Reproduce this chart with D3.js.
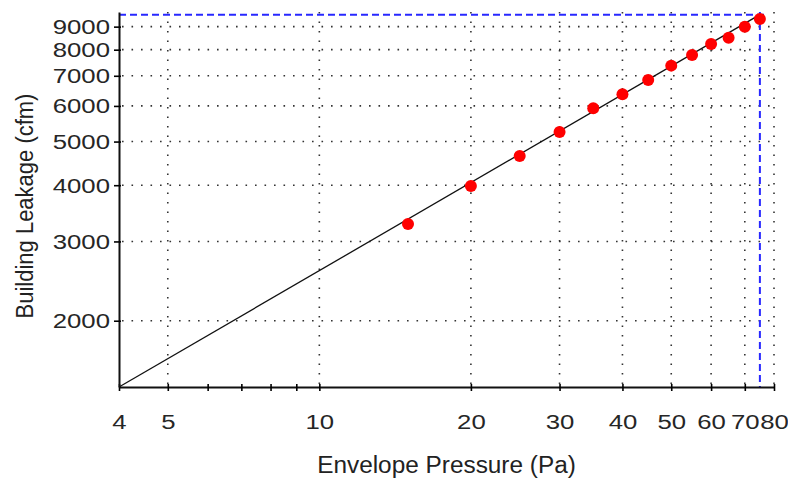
<!DOCTYPE html>
<html>
<head>
<meta charset="utf-8">
<script src="https://cdn.jsdelivr.net/npm/d3@7"></script>
<style>
  body { margin: 0; background: #fff; }
  svg { display: block; font-family: "Liberation Sans", Arial, sans-serif; }
</style>
</head>
<body>
<svg id="chart" width="788" height="480"></svg>
<script>
// Blower door test: building leakage vs envelope pressure, log-log axes
const pressures = [15, 20, 25, 30, 35, 40, 45, 50, 55, 60, 65, 70, 75]
const flows = [3280, 3984, 4644, 5252, 5929, 6368, 6851, 7373, 7788, 8238, 8508, 9000, 9362]

// fitted power-law line, drawn between its two end points
const fitPressures = [4, 75]
const fitFlows = [1425, 9570]

// blue crosshair at the test pressure
const crossPressure = 75
const crossFlow = 9570

const xTicks = [4, 5, 10, 20, 30, 40, 50, 60, 70, 80]
const xMinorTicks = [6, 7, 8, 9]
const xGridValues = [5, 10, 20, 30, 40, 50, 60, 70, 80]
const yTicks = [2000, 3000, 4000, 5000, 6000, 7000, 8000, 9000]
const xDomain = [4, 80]
const yDomain = [1425, 9700]

const margin = {top: 12, right: 14, bottom: 93, left: 119}
const width = 788
const height = 480

const svg = d3.select('#chart')

const x = d3.scaleLog()
            .domain(xDomain)
            .range([margin.left, width - margin.right])
const y = d3.scaleLog()
            .domain(yDomain)
            .range([height - margin.bottom, margin.top])

// dotted grid
const grid = svg.append('g').attr('class', 'grid')
grid.selectAll('line.gx')
    .data(xGridValues)
    .join('line')
    .attr('class', 'gx')
    .attr('x1', d => x(d)).attr('x2', d => x(d))
    .attr('y1', y.range()[0]).attr('y2', y.range()[1])
grid.selectAll('line.gy')
    .data(yTicks)
    .join('line')
    .attr('class', 'gy')
    .attr('x1', x.range()[0]).attr('x2', x.range()[1])
    .attr('y1', d => y(d)).attr('y2', d => y(d))
grid.selectAll('line')
    .attr('stroke', '#333')
    .attr('stroke-width', 1.6)
    .attr('stroke-dasharray', '1.6,7.9')
    .attr('stroke-dashoffset', -3)

// crosshair
const crossColor = '#2828ff'
svg.append('line')
   .attr('x1', x(xDomain[0])).attr('x2', x(crossPressure) + 8)
   .attr('y1', y(crossFlow)).attr('y2', y(crossFlow))
   .attr('stroke', crossColor).attr('stroke-width', 2)
   .attr('stroke-dasharray', '7,4')
svg.append('line')
   .attr('x1', x(crossPressure)).attr('x2', x(crossPressure))
   .attr('y1', y.range()[1]).attr('y2', y.range()[0])
   .attr('stroke', crossColor).attr('stroke-width', 2)
   .attr('stroke-dasharray', '7,4')

// fit line
const fitLine = d3.line()
                  .x(d => x(d[0]))
                  .y(d => y(d[1]))
svg.append('path')
   .datum(d3.zip(fitPressures, fitFlows))
   .attr('d', fitLine)
   .attr('fill', 'none')
   .attr('stroke', '#111')
   .attr('stroke-width', 1.3)

// measured points
svg.append('g')
   .selectAll('circle')
   .data(d3.zip(pressures, flows))
   .join('circle')
   .attr('cx', d => x(d[0]))
   .attr('cy', d => y(d[1]))
   .attr('r', 6)
   .attr('fill', '#ff0000')

// axes
const tickFont = 19.5
const tickStretch = 1.32

const xAxis = d3.axisBottom(x)
                .tickValues(xTicks.concat(xMinorTicks))
                .tickFormat(d => xTicks.includes(d) ? d : '')
                .tickSizeInner(4)
                .tickSizeOuter(0)
const gx = svg.append('g')
              .attr('transform', `translate(0,${y.range()[0]})`)
              .call(xAxis)
gx.selectAll('.tick line').attr('y1', -3).attr('stroke-width', 1.6)
gx.selectAll('.tick text')
  .attr('y', null).attr('dy', null)
  .attr('transform', `translate(0,42) scale(${tickStretch},1)`)
  .attr('font-size', tickFont)

const yAxis = d3.axisLeft(y)
                .tickValues(yTicks)
                .tickFormat(d3.format('d'))
                .tickSizeInner(5)
                .tickSizeOuter(0)
const gy = svg.append('g')
              .attr('transform', `translate(${x.range()[0]},0)`)
              .call(yAxis)
gy.selectAll('.tick line').attr('x2', -5).attr('x1', 2).attr('stroke-width', 1.6)
gy.selectAll('.tick text')
  .attr('x', null).attr('dy', null)
  .attr('transform', `translate(-9,7) scale(${tickStretch},1)`)
  .attr('font-size', tickFont)

svg.selectAll('.domain').attr('stroke', '#111').attr('stroke-width', 2)
svg.selectAll('.tick text').attr('fill', '#262626').attr('font-family', '"Liberation Sans", Arial, sans-serif')

// axis titles
svg.append('text')
   .attr('transform', `translate(${(x.range()[0] + x.range()[1]) / 2},473) scale(1.06,1)`)
   .attr('text-anchor', 'middle')
   .attr('font-size', 23)
   .attr('fill', '#222')
   .text('Envelope Pressure (Pa)')
svg.append('text')
   .attr('transform', 'translate(33,206) scale(1.12,1) rotate(-90)')
   .attr('text-anchor', 'middle')
   .attr('font-size', 22)
   .attr('fill', '#222')
   .text('Building Leakage (cfm)')
</script>
</body>
</html>
